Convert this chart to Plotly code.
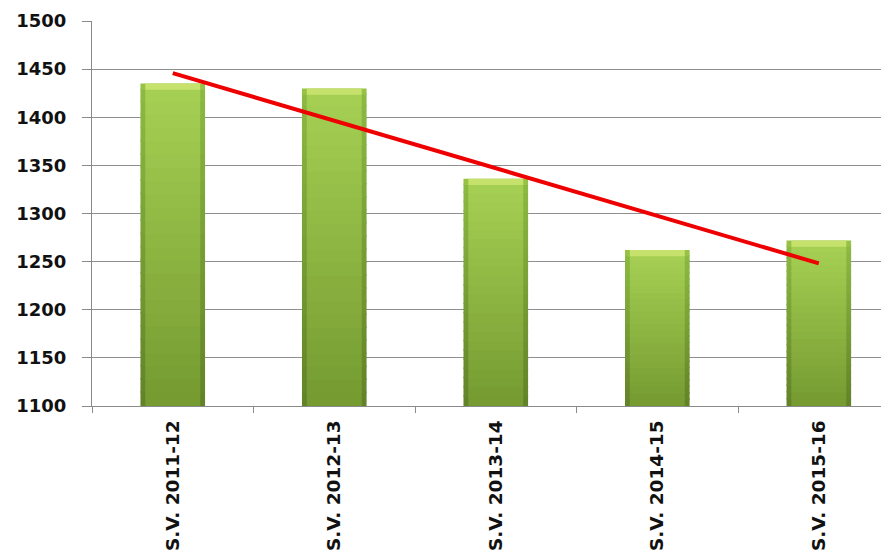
import numpy as np
import plotly.graph_objects as go

# School-year enrolment figures
categories = ["S.V. 2011-12", "S.V. 2012-13", "S.V. 2013-14", "S.V. 2014-15", "S.V. 2015-16"]
values = [1435, 1430, 1336, 1262, 1272]
y_ticks = [1100, 1150, 1200, 1250, 1300, 1350, 1400, 1450, 1500]

BASE = 1100
N_SEG = 24          # slices used to build the vertical colour gradient
CAP = 5             # height of the bright bevel on top of each bar
OVERLAP = 1.5       # slight overlap between slices so no seams show


def mix(c0, c1, t):
    return "rgb({},{},{})".format(*[int(round(a + (b - a) * t)) for a, b in zip(c0, c1)])


outer_lo, outer_hi = (98, 130, 40), (140, 186, 66)     # darker side edges
inner_lo, inner_hi = (116, 154, 48), (166, 208, 84)    # face of the bar
cap_outer, cap_inner = (150, 194, 70), (198, 226, 108)

vals = np.array(values, dtype=float)
x_idx = np.arange(len(categories))

fig = go.Figure()

for width, lo, hi, capc in [(0.40, outer_lo, outer_hi, cap_outer),
                            (0.34, inner_lo, inner_hi, cap_inner)]:
    body = vals - BASE - CAP
    for k in range(N_SEG):
        t = (k + 0.5) / N_SEG
        seg_base = BASE + body * k / N_SEG
        seg_h = body / N_SEG + (OVERLAP if k < N_SEG - 1 else 0)
        fig.add_trace(go.Bar(
            x=categories, y=seg_h, base=seg_base,
            width=width, marker=dict(color=mix(lo, hi, t), line=dict(width=0)),
            hoverinfo="skip", showlegend=False))
    fig.add_trace(go.Bar(
        x=categories, y=[CAP + OVERLAP] * len(categories), base=vals - CAP - OVERLAP,
        width=width, marker=dict(color=mix(capc, capc, 0), line=dict(width=0)),
        hoverinfo="skip", showlegend=False))

# Linear trend over the five years
slope, intercept = np.polyfit(x_idx, vals, 1)
trend = slope * x_idx + intercept
fig.add_trace(go.Scatter(
    x=categories, y=trend, mode="lines",
    line=dict(color="rgb(238,0,0)", width=4),
    hoverinfo="skip", showlegend=False))

fig.update_layout(
    width=881, height=554,
    margin=dict(l=92, r=0, t=21, b=148),
    barmode="overlay",
    plot_bgcolor="white", paper_bgcolor="white",
    font=dict(family="DejaVu Sans", color="#111111"),
)

fig.update_xaxes(
    type="category", range=[-0.5, 4.385], automargin=False,
    showgrid=False, showline=True, linecolor="#8a8a8a", linewidth=1,
    ticks="outside", tickson="boundaries", ticklen=6, tickcolor="#8a8a8a",
    tickangle=-90, ticklabelstandoff=6,
    tickfont=dict(family="DejaVu Sans", size=18.5, weight="bold", color="#111111"),
)

fig.update_yaxes(
    range=[1100, 1500], tickvals=y_ticks, automargin=False,
    showgrid=True, gridcolor="#8f8f8f", gridwidth=1,
    showline=True, linecolor="#8a8a8a", linewidth=1,
    ticks="outside", ticklen=9, tickcolor="#8a8a8a",
    ticklabelstandoff=12, zeroline=False,
    tickfont=dict(family="DejaVu Sans", size=18, weight="bold", color="#111111"),
)

fig.write_html("out.html")
